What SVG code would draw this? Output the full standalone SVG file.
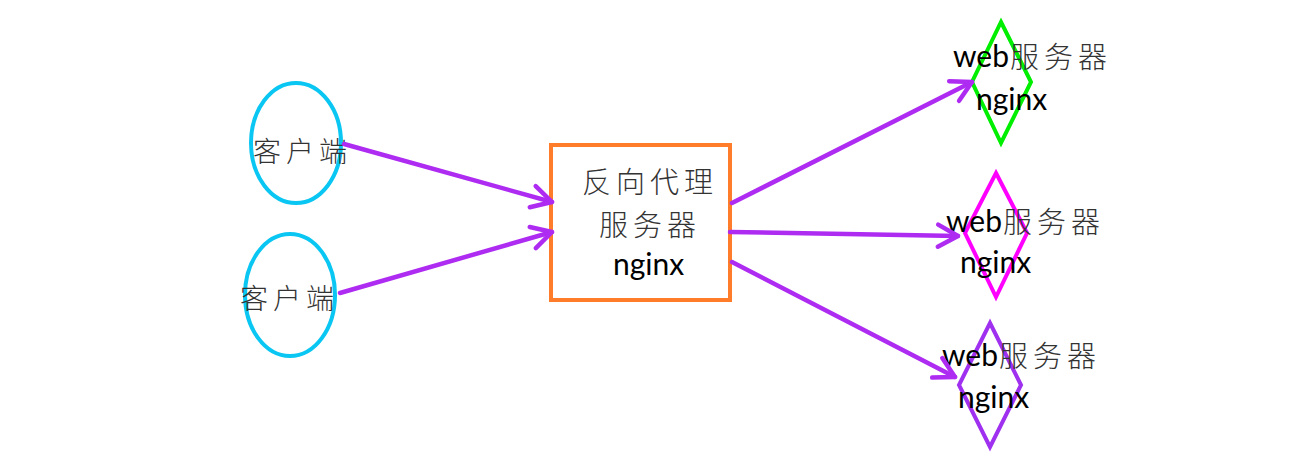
<svg xmlns="http://www.w3.org/2000/svg" width="1312" height="459" viewBox="0 0 1312 459">
<style>
.cn{font-family:"Noto Sans CJK SC","Noto Sans",sans-serif;font-size:28px;fill:#333;font-weight:300;letter-spacing:5px}
.en{font-family:Lato,"Liberation Sans",sans-serif;font-size:30px;fill:#000}
.conn{stroke:#AE2BF2;stroke-width:4.5;fill:none;stroke-linecap:round}
</style>
<defs>
<marker id="ah" markerUnits="userSpaceOnUse" markerWidth="30" markerHeight="30" viewBox="-26 -15 30 30" refX="0" refY="0" orient="auto" overflow="visible">
<path d="M-20,-11 L0,0 L-20,11" fill="none" stroke="#AE2BF2" stroke-width="4.5" stroke-linecap="round" stroke-linejoin="round"/>
</marker>
</defs>
<rect width="1312" height="459" fill="#fff"/>
<g id="client1">
<ellipse cx="296" cy="143" rx="45" ry="60" fill="none" stroke="#0AC6F2" stroke-width="4"/>
<text class="cn" x="253" y="162">客户端</text>
</g>
<g id="client2">
<ellipse cx="290" cy="295" rx="45" ry="61" fill="none" stroke="#0AC6F2" stroke-width="4"/>
<text class="cn" x="240" y="309">客户端</text>
</g>
<g id="proxy">
<rect x="551" y="145" width="179" height="155" fill="none" stroke="#FF7C2A" stroke-width="4"/>
<text class="cn" x="582" y="193" style="font-size:29px">反向代理</text>
<text class="cn" x="599" y="236" style="font-size:29px">服务器</text>
<text class="en" x="613" y="275">nginx</text>
</g>
<g id="web1">
<polygon points="1001,22 1031,82 1001,143 972,82" fill="none" stroke="#00EE00" stroke-width="4"/>
<text class="en" x="953" y="67">web</text>
<text class="cn" x="1010" y="68" style="font-size:29px">服务器</text>
<text class="en" x="976" y="110">nginx</text>
</g>
<g id="web2">
<polygon points="996,173 1027,233 996,297 965,233" fill="none" stroke="#FF00FF" stroke-width="4"/>
<text class="en" x="946" y="232">web</text>
<text class="cn" x="1003" y="233" style="font-size:29px">服务器</text>
<text class="en" x="960" y="273">nginx</text>
</g>
<g id="web3">
<polygon points="990,323 1021,385 990,447 959,385" fill="none" stroke="#A030F0" stroke-width="4"/>
<text class="en" x="942" y="366">web</text>
<text class="cn" x="999" y="367" style="font-size:29px">服务器</text>
<text class="en" x="958" y="408">nginx</text>
</g>
<g id="connectors">
<line class="conn" x1="344" y1="144" x2="552" y2="202" marker-end="url(#ah)"/>
<line class="conn" x1="340" y1="293" x2="552" y2="232" marker-end="url(#ah)"/>
<line class="conn" x1="732" y1="203" x2="972" y2="82" marker-end="url(#ah)"/>
<line class="conn" x1="730" y1="232" x2="958" y2="236" marker-end="url(#ah)"/>
<line class="conn" x1="732" y1="262" x2="955" y2="377" marker-end="url(#ah)"/>
</g>
</svg>
